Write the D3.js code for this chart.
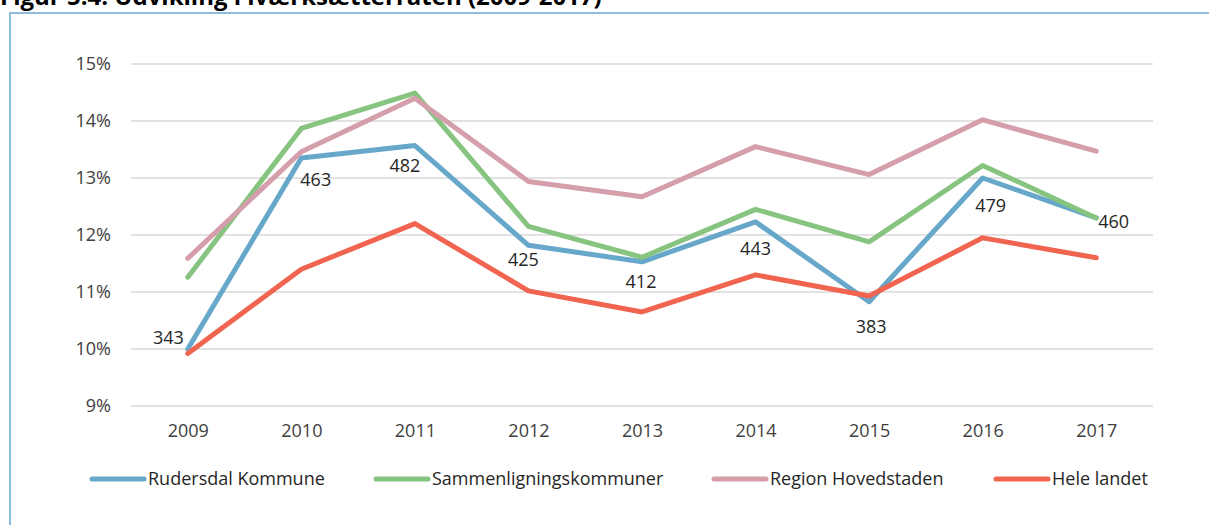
<!DOCTYPE html>
<html>
<head>
<meta charset="utf-8">
<script src="https://cdn.jsdelivr.net/npm/d3@7"></script>
<style>
  body { margin: 0; background: #fff; overflow: hidden; }
  svg { font-family: 'Open Sans', sans-serif; }
</style>
</head>
<body>
<script>
'use strict';

const years = ['2009', '2010', '2011', '2012', '2013', '2014', '2015', '2016', '2017'];
const seriesNames = ['Rudersdal Kommune', 'Sammenligningskommuner', 'Region Hovedstaden', 'Hele landet'];
const rudersdal = [10.0, 13.35, 13.57, 11.82, 11.53, 12.23, 10.83, 13.0, 12.3];
const sammenligning = [11.26, 13.87, 14.49, 12.15, 11.61, 12.45, 11.88, 13.22, 12.3];
const hovedstaden = [11.59, 13.46, 14.4, 12.94, 12.67, 13.55, 13.06, 14.02, 13.47];
const heleLandet = [9.92, 11.4, 12.2, 11.02, 10.65, 11.3, 10.93, 11.95, 11.6];
const rudersdalLabels = ['343', '463', '482', '425', '412', '443', '383', '479', '460'];
const yTicks = [9, 10, 11, 12, 13, 14, 15];
const colors = ['#66a7ca', '#86c47f', '#d59eab', '#f1644f'];

// label layout (anchor, dx, dy) relative to the data point
const labelLayout = [
	['end', -4, -5], ['start', -1, 28], ['middle', -10, 26], ['middle', -5, 21], ['middle', -1, 26],
	['middle', 0, 33], ['middle', 2, 31], ['middle', 8, 34], ['start', 2, 10]
];

const W = 1209, H = 525;
const margin = { left: 131, right: 56, top: 64, bottom: 119 };
const FONT = 18;

const svg = d3.select('body').append('svg').attr('width', W).attr('height', H);

// title (cut off at top edge, as in the source) and frame
svg.append('text')
	.attr('x', 0).attr('y', 5)
	.attr('font-size', 24).attr('font-weight', 'bold').attr('fill', '#000')
	.text('Figur 5.4: Udvikling i iværksætterraten (2009-2017)');
svg.append('rect')
	.attr('x', 10).attr('y', 13).attr('width', W).attr('height', H)
	.attr('fill', 'none').attr('stroke', '#6aa6d1').attr('stroke-width', 1.5);

const xScale = d3.scalePoint()
	.domain(years)
	.range([margin.left, W - margin.right])
	.padding(0.5);
const yScale = d3.scaleLinear()
	.domain([9, 15])
	.range([H - margin.bottom, margin.top]);

// gridlines
svg.append('g')
	.selectAll('line')
	.data(yTicks)
	.enter()
	.append('line')
	.attr('x1', margin.left).attr('x2', W - margin.right)
	.attr('y1', (d) => yScale(d)).attr('y2', (d) => yScale(d))
	.attr('stroke', '#d9d9d9').attr('stroke-width', 1.5);

// axes
let yAxis = d3.axisLeft(yScale).tickValues(yTicks).tickSize(0).tickPadding(20).tickFormat((d) => d + '%');
let xAxis = d3.axisBottom(xScale).tickSize(0).tickPadding(18);

let gy = svg.append('g').attr('transform', 'translate(' + margin.left + ',0)').call(yAxis);
let gx = svg.append('g').attr('transform', 'translate(0,' + (H - margin.bottom) + ')').call(xAxis);
[gx, gy].forEach((g) => {
	g.select('.domain').remove();
	g.selectAll('text').attr('font-size', FONT).attr('fill', '#404040').attr('font-family', "'Open Sans', sans-serif");
});

const allSeries = [rudersdal, sammenligning, hovedstaden, heleLandet];
const line = d3.line()
	.x((d, i) => xScale(years[i]))
	.y((d) => yScale(d));

svg.append('g')
	.selectAll('path')
	.data(allSeries)
	.enter()
	.append('path')
	.attr('d', (d) => line(d))
	.attr('fill', 'none')
	.attr('stroke', (d, k) => colors[k])
	.attr('stroke-width', 5)
	.attr('stroke-linejoin', 'round')
	.attr('stroke-linecap', 'round');

// data labels for Rudersdal
svg.append('g')
	.selectAll('text')
	.data(rudersdal)
	.enter()
	.append('text')
	.attr('x', (d, i) => xScale(years[i]) + labelLayout[i][1])
	.attr('y', (d, i) => yScale(d) + labelLayout[i][2])
	.attr('text-anchor', (d, i) => labelLayout[i][0])
	.attr('font-size', FONT)
	.attr('fill', '#262626')
	.text((d, i) => rudersdalLabels[i]);

// legend
const legendX = [90, 374, 712, 994];
let legend = svg.append('g').attr('transform', 'translate(0,479)');
let items = legend.selectAll('g')
	.data(seriesNames)
	.enter()
	.append('g')
	.attr('transform', (d, i) => 'translate(' + legendX[i] + ',0)');
items.append('line')
	.attr('x1', 2).attr('x2', 54)
	.attr('y1', 0).attr('y2', 0)
	.attr('stroke', (d, i) => colors[i])
	.attr('stroke-width', 5)
	.attr('stroke-linecap', 'round');
items.append('text')
	.attr('x', 58).attr('y', 6)
	.attr('font-size', FONT)
	.attr('fill', '#262626')
	.text((d) => d);
</script>
</body>
</html>
